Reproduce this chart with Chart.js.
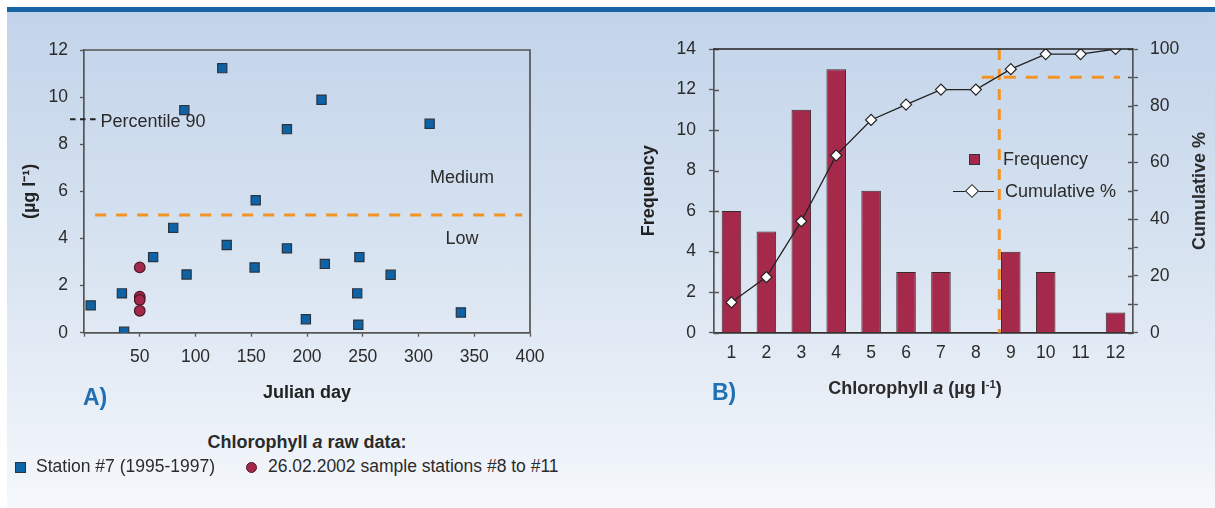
<!DOCTYPE html>
<html>
<head>
<meta charset="utf-8">
<script src="https://cdn.jsdelivr.net/npm/chart.js@4.4.1/dist/chart.umd.min.js"></script>
<style>
    html, body { margin: 0; padding: 0; background: #fff; }
    body { width: 1215px; height: 508px; position: relative; overflow: hidden;
           font-family: 'Liberation Sans', Arial, sans-serif; color: #2b2b2b; }
    #panel { position: absolute; left: 7px; top: 7px; right: 0; bottom: 0;
             border-top: 5px solid #1764a4;
             background: linear-gradient(to bottom, #c3d4ea 0%, #d3e0ef 40%, #e6edf6 75%, #f5f8fc 100%); }
    .cv { position: absolute; top: 0; }
    .t { position: absolute; white-space: nowrap; line-height: 1; transform: translate(0, -50%); }
    .c { transform: translate(-50%, -50%); }
    .b { font-weight: bold; font-size: 18px; }
    .r { font-size: 18px; }
    .tag { font-size: 23px; font-weight: bold; color: #1f6fb2; }
    sup { font-size: 0.62em; vertical-align: 0.55em; line-height: 0; }
    .sq { position: absolute; width: 9px; height: 9px; border: 1px solid #2a3440; }
    .dot { position: absolute; width: 9px; height: 9px; border: 1px solid #4d1525; border-radius: 50%; background: #a2294a; }
    .diamond { position: absolute; width: 8px; height: 8px; background: #fff; border: 1.2px solid #222; transform: rotate(45deg); }
    .ln { position: absolute; height: 1.3px; background: #222; }
</style>
</head>
<body>
<div id="panel"></div>
<canvas id="chartA" class="cv" style="left:0" width="600" height="420"></canvas>
<canvas id="chartB" class="cv" style="left:600px" width="615" height="420"></canvas>

<div class="t tag" style="left:83px; top:397px">A)</div>
<div class="t tag" style="left:712px; top:392px">B)</div>
<div class="t b c" style="left:915px; top:388px">Chlorophyll <i>a</i> (µg l<sup>-1</sup>)</div>
<div class="t b c" style="left:1199px; top:191px; transform: translate(-50%, -50%) rotate(-90deg)">Cumulative %</div>

<!-- legend of panel B -->
<div class="sq" style="left:969px; top:154px; background:#a2294a"></div>
<div class="t r" style="left:1003px; top:159px">Frequency</div>
<div class="ln" style="left:953px; top:190.5px; width:41px"></div>
<div class="diamond" style="left:966.5px; top:185.5px"></div>
<div class="t r" style="left:1005px; top:191px">Cumulative %</div>

<!-- legend of panel A -->
<div class="t b c" style="left:307px; top:442px">Chlorophyll <i>a</i> raw data:</div>
<div class="sq" style="left:15px; top:462px; background:#0d63a5"></div>
<div class="t r" style="left:36px; top:467px; font-size:17.5px">Station #7 (1995-1997)</div>
<div class="dot" style="left:245.5px; top:461.5px"></div>
<div class="t r" style="left:268px; top:467px; font-size:17.5px">26.02.2002 sample stations #8 to #11</div>

<script>
// A) raw data, Julian day vs chlorophyll a
const stationDays = [6, 34, 36, 62, 80, 92, 90, 124, 128, 153, 154, 182, 182, 199, 213, 216, 245, 246, 247, 275, 310, 338];
const stationChl = [1.16, 1.67, 0.04, 3.21, 4.45, 2.47, 9.45, 11.23, 3.72, 2.77, 5.62, 3.58, 8.64, 0.57, 9.89, 2.92, 1.67, 0.34, 3.21, 2.46, 8.87, 0.86];
const sampleDays = [50, 50, 50, 50];
const sampleChl = [2.77, 1.53, 1.39, 0.93];
const lowMediumLimit = 5;
const percentile90 = 9.06;

// B) frequency distribution
const chlClasses = ['1', '2', '3', '4', '5', '6', '7', '8', '9', '10', '11', '12'];
const frequency = [6, 5, 11, 13, 7, 3, 3, 0, 4, 3, 0, 1];
const cumulativePct = [10.7, 19.6, 39.3, 62.5, 75.0, 80.4, 85.7, 85.7, 92.9, 98.2, 98.2, 100];
const p90Class = 7.67;     // position of the 90 % cut on the class axis (index)
const p90Pct = 90;

Chart.defaults.font.family = "'Liberation Sans', Arial, sans-serif";
Chart.defaults.color = '#2b2b2b';

const tickFont = { size: 17.5 };
const titleFont = { size: 18, weight: 'bold' };
const axisGray = '#555';
const orange = '#f39325';

function toPoints(xs, ys) {
    return xs.map((x, i) => ({ x, y: ys[i] }));
}

const chartAExtras = {
    id: 'chartAExtras',
    beforeDatasetsDraw(chart) {
        const { ctx, chartArea: a, scales: { x, y } } = chart;
        ctx.save();
        // low / medium limit
        const yL = y.getPixelForValue(lowMediumLimit);
        ctx.strokeStyle = orange;
        ctx.lineWidth = 3;
        ctx.setLineDash([11, 10]);
        ctx.beginPath();
        ctx.moveTo(x.getPixelForValue(10), yL);
        ctx.lineTo(x.getPixelForValue(393), yL);
        ctx.stroke();
        // percentile 90 mark on the axis
        const yP = y.getPixelForValue(percentile90);
        ctx.strokeStyle = '#222';
        ctx.lineWidth = 2;
        ctx.setLineDash([5.5, 4.5]);
        ctx.beginPath();
        ctx.moveTo(x.getPixelForValue(-12.5), yP);
        ctx.lineTo(x.getPixelForValue(11), yP);
        ctx.stroke();
        // frame
        ctx.setLineDash([]);
        ctx.strokeStyle = axisGray;
        ctx.lineWidth = 1.7;
        ctx.beginPath();
        ctx.moveTo(a.left, a.top);
        ctx.lineTo(a.right, a.top);
        ctx.lineTo(a.right, a.bottom);
        ctx.stroke();
        // labels
        ctx.fillStyle = '#2b2b2b';
        ctx.font = "18px 'Liberation Sans', Arial, sans-serif";
        ctx.textBaseline = 'middle';
        ctx.textAlign = 'left';
        ctx.fillText('Percentile 90', x.getPixelForValue(14.8), y.getPixelForValue(8.95));
        ctx.textAlign = 'center';
        ctx.fillText('Medium', x.getPixelForValue(339), y.getPixelForValue(6.58));
        ctx.fillText('Low', x.getPixelForValue(339), y.getPixelForValue(3.98));
        ctx.restore();
    }
};

new Chart(document.getElementById('chartA'), {
    type: 'scatter',
    data: {
        datasets: [{
            label: 'Station #7 (1995-1997)',
            data: toPoints(stationDays, stationChl),
            pointStyle: 'rect',
            radius: 6.5,
            backgroundColor: '#0d63a5',
            borderColor: '#2a3440',
            borderWidth: 1.2
        }, {
            label: '26.02.2002 sample stations #8 to #11',
            data: toPoints(sampleDays, sampleChl),
            pointStyle: 'circle',
            radius: 5.3,
            backgroundColor: '#a2294a',
            borderColor: '#4d1525',
            borderWidth: 1.2
        }]
    },
    options: {
        responsive: false,
        animation: false,
        layout: { padding: { top: 50, right: 70, left: 0, bottom: 0 } },
        plugins: { legend: { display: false }, tooltip: { enabled: false } },
        scales: {
            x: {
                type: 'linear', min: 0, max: 400,
                afterFit: s => { s.height = 87.3; },
                border: { color: axisGray, width: 1.7 },
                grid: { drawOnChartArea: false, color: axisGray, tickLength: 4, tickWidth: 1.3 },
                ticks: { stepSize: 50, font: tickFont, padding: 10, color: '#2b2b2b',
                         callback: v => v === 0 ? '' : v },
                title: { display: true, text: 'Julian day', font: titleFont, color: '#222',
                         padding: { top: 0, bottom: 15.8 } }
            },
            y: {
                min: 0, max: 12,
                afterFit: s => { s.width = 84; },
                border: { color: axisGray, width: 1.7 },
                grid: { drawOnChartArea: false, color: axisGray, tickLength: 4, tickWidth: 1.3 },
                ticks: { stepSize: 2, font: tickFont, padding: 12, color: '#2b2b2b' },
                title: { display: true, text: '(µg l⁻¹)', font: titleFont, color: '#222',
                         padding: { top: 18.8, bottom: 0 } }
            }
        }
    },
    plugins: [chartAExtras]
});

const chartBExtras = {
    id: 'chartBExtras',
    beforeDatasetsDraw(chart) {
        const { ctx, chartArea: a, scales: { x, y2 } } = chart;
        ctx.save();
        ctx.strokeStyle = orange;
        ctx.lineWidth = 3;
        ctx.setLineDash([11, 9]);
        const xv = x.getPixelForValue(p90Class);
        ctx.beginPath();
        ctx.moveTo(xv, y2.getPixelForValue(100));
        ctx.lineTo(xv, y2.getPixelForValue(0));
        ctx.stroke();
        const yh = y2.getPixelForValue(p90Pct);
        ctx.setLineDash([12, 10]);
        ctx.beginPath();
        ctx.moveTo(x.getPixelForValue(7.17), yh);
        ctx.lineTo(x.getPixelForValue(11.13), yh);
        ctx.stroke();
        ctx.restore();
    },
    afterDraw(chart) {
        const { ctx, chartArea: a, scales: { y, y2 } } = chart;
        ctx.save();
        ctx.strokeStyle = axisGray;
        ctx.lineWidth = 1.3;
        ctx.beginPath();
        y.ticks.forEach(t => {
            const py = Math.round(y.getPixelForValue(t.value)) + 0.5;
            ctx.moveTo(a.left, py);
            ctx.lineTo(a.left + 5, py);
        });
        y2.ticks.forEach(t => {
            const py = Math.round(y2.getPixelForValue(t.value)) + 0.5;
            ctx.moveTo(a.right - 5, py);
            ctx.lineTo(a.right, py);
        });
        ctx.stroke();
        ctx.strokeStyle = '#222';
        ctx.lineWidth = 1.5;
        ctx.beginPath();
        ctx.moveTo(a.left, a.top);
        ctx.lineTo(a.right, a.top);
        ctx.stroke();
        ctx.restore();
    }
};

new Chart(document.getElementById('chartB'), {
    type: 'bar',
    data: {
        labels: chlClasses,
        datasets: [{
            type: 'line',
            label: 'Cumulative %',
            data: cumulativePct,
            yAxisID: 'y2',
            order: 0,
            borderColor: '#222',
            borderWidth: 1.3,
            tension: 0,
            pointStyle: 'rectRot',
            radius: 5.5,
            pointBackgroundColor: '#fff',
            pointBorderColor: '#222',
            pointBorderWidth: 1.2
        }, {
            label: 'Frequency',
            data: frequency,
            yAxisID: 'y',
            order: 1,
            backgroundColor: '#a5294b',
            borderColor: '#3a2a30',
            borderWidth: 1,
            categoryPercentage: 1,
            barPercentage: 0.56
        }]
    },
    options: {
        responsive: false,
        animation: false,
        layout: { padding: { top: 49, right: 0, left: 0, bottom: 0 } },
        plugins: { legend: { display: false }, tooltip: { enabled: false } },
        scales: {
            x: {
                afterFit: s => { s.height = 87.3; },
                border: { color: '#333', width: 1.7 },
                grid: { display: false, drawTicks: false },
                ticks: { font: tickFont, padding: 10.4, color: '#2b2b2b' }
            },
            y: {
                position: 'left',
                min: 0, max: 14,
                afterFit: s => { s.width = 114; },
                border: { color: axisGray, width: 1.7 },
                grid: { drawOnChartArea: false, color: axisGray, tickLength: 5, tickWidth: 1.3 },
                ticks: { stepSize: 2, font: tickFont, padding: 13, color: '#2b2b2b' },
                title: { display: true, text: 'Frequency', font: titleFont, color: '#222',
                         padding: { top: 37.8, bottom: 0 } }
            },
            y2: {
                position: 'right',
                min: 0, max: 100,
                afterFit: s => { s.width = 82; },
                border: { color: axisGray, width: 1.7 },
                grid: { drawOnChartArea: false, color: axisGray, tickLength: 5, tickWidth: 1.3 },
                ticks: { stepSize: 10, font: tickFont, padding: 12, color: '#2b2b2b',
                         callback: v => v % 20 === 0 ? v : '' }
            }
        }
    },
    plugins: [chartBExtras]
});
</script>
</body>
</html>
